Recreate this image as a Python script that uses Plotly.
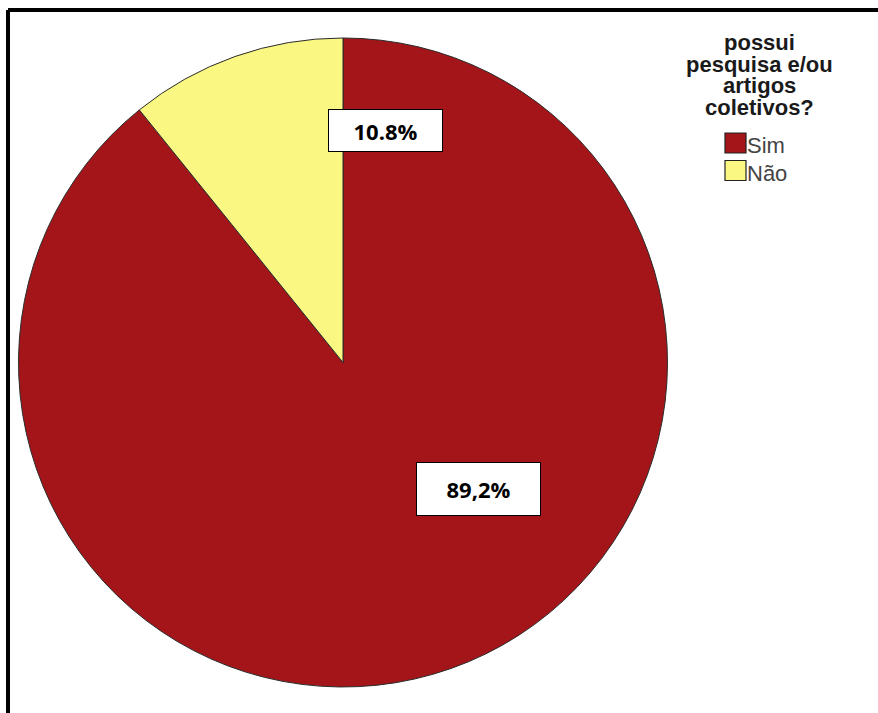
import plotly.graph_objects as go

# Responses to "possui pesquisa e/ou artigos coletivos?"
categories = ["Sim", "Não"]
shares = [89.2, 10.8]
label_texts = ["89,2%", "10.8%"]
colors = ["#A31519", "#FAF782"]
legend_title_lines = ["possui", "pesquisa e/ou", "artigos", "coletivos?"]

W, H = 878, 713


def px(x):
    return x / W


def py(y):
    return 1 - y / H


fig = go.Figure()
fig.add_trace(go.Pie(
    labels=categories,
    values=shares,
    sort=False,
    direction="clockwise",
    rotation=0,
    textinfo="none",
    hoverinfo="label+percent",
    marker=dict(colors=colors, line=dict(color="#2b2b2b", width=1)),
    domain=dict(x=[px(18), px(668)], y=[py(687), py(38)]),
))

# Boxed value labels
label_pos = {"Sim": (479, 489, 125, 54), "Não": (385, 131, 115, 43)}
for cat, txt in zip(categories, label_texts):
    cx, cy, bw, bh = label_pos[cat]
    fig.add_annotation(
        x=px(cx), y=py(cy), xref="paper", yref="paper",
        text=f"<b>{txt}</b>", showarrow=False,
        font=dict(family="Open Sans, Liberation Sans, Arial", size=22, color="black"),
        bgcolor="white", bordercolor="black", borderwidth=1,
        width=bw - 4, height=bh - 4, xanchor="center", yanchor="middle",
    )

# Legend title, one centred line at a time (tight line pitch)
for i, line in enumerate(legend_title_lines):
    fig.add_annotation(
        x=px(759), y=py(42.5 + 21.7 * i), xref="paper", yref="paper",
        text=f"<b>{line}</b>", showarrow=False,
        font=dict(family="Liberation Sans, Arial", size=22, color="#1a1a1a"),
        borderpad=0,
        xanchor="center", yanchor="middle",
    )

# Legend swatches and entries
for i, (cat, col) in enumerate(zip(categories, colors)):
    top = 133 + 27.5 * i
    fig.add_shape(type="rect", xref="paper", yref="paper",
                  x0=px(725), x1=px(746), y0=py(top), y1=py(top + 20),
                  fillcolor=col, line=dict(color="#222222", width=1.2))
    fig.add_annotation(
        x=px(746), y=py(top + 12.5), xref="paper", yref="paper",
        text=cat, showarrow=False,
        font=dict(family="Liberation Sans, Arial", size=22, color="#444444"),
        borderpad=0,
        xanchor="left", yanchor="middle",
    )

# Outer frame (left and top edges)
fig.add_shape(type="line", xref="paper", yref="paper",
              x0=px(8), x1=1.01, y0=py(10), y1=py(10),
              line=dict(color="black", width=4))
fig.add_shape(type="line", xref="paper", yref="paper",
              x0=px(8), x1=px(8), y0=py(10), y1=-0.01,
              line=dict(color="black", width=4))

fig.update_layout(
    width=W, height=H,
    margin=dict(l=0, r=0, t=0, b=0),
    paper_bgcolor="white",
    plot_bgcolor="white",
    font=dict(family="Liberation Sans, Arial", color="#333333"),
    showlegend=False,
)

fig.write_html("out.html")
